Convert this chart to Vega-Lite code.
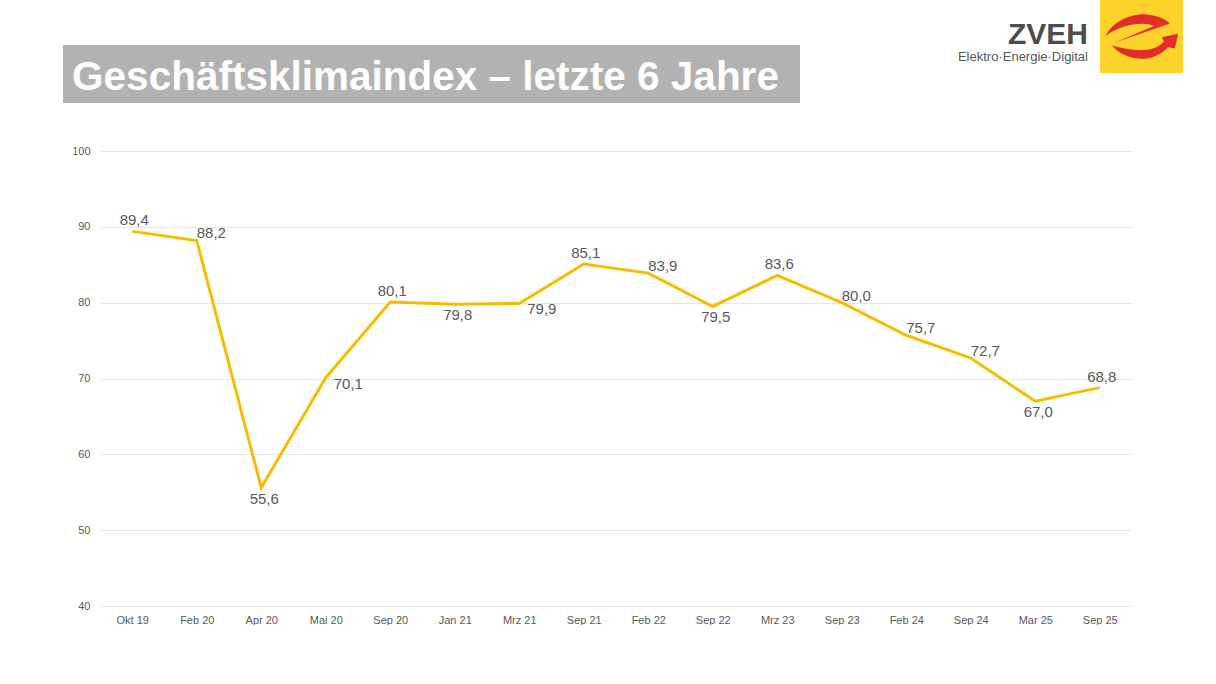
{
  "$schema": "https://vega.github.io/schema/vega-lite/v6.json",
  "background": "white",
  "padding": {"left": 63, "top": 0, "right": 0, "bottom": 0},
  "config": {
    "view": {"stroke": null},
    "font": "Liberation Sans",
    "locale": {"number": {"decimal": ",", "thousands": ".", "grouping": [3], "currency": ["", " €"]}}
  },
  "bounds": "full",
  "spacing": 42,
  "vconcat": [
    {
      "bounds": "full",
      "spacing": 12,
      "hconcat": [
        {
          "bounds": "full",
          "spacing": 12,
          "vconcat": [
            {"width": 737, "height": 33, "data": {"values": []}, "mark": "text"},
            {
              "width": 737,
              "height": 58,
              "view": {"fill": "#b2b2b2", "stroke": null},
              "data": {"values": [{"titel": "Geschäftsklimaindex – letzte 6 Jahre"}]},
              "mark": {"type": "text", "font": "Liberation Sans", "fontWeight": "bold", "fontSize": 40.5, "color": "white", "align": "center", "baseline": "middle", "dx": -6, "dy": 4},
              "encoding": {"text": {"field": "titel", "type": "nominal"}}
            }
          ]
        },
        {
          "width": 276,
          "height": 90,
          "data": {"values": [{"name": "ZVEH", "claim": "Elektro·Energie·Digital"}]},
          "layer": [
            {
              "mark": {"type": "text", "font": "Liberation Sans", "fontWeight": "bold", "fontSize": 30, "color": "#4d4d4d", "align": "right", "baseline": "alphabetic", "dy": -1},
              "encoding": {"x": {"value": "width"}, "text": {"field": "name", "type": "nominal"}}
            },
            {
              "mark": {"type": "text", "font": "Liberation Sans", "fontSize": 13, "color": "#555555", "align": "right", "baseline": "alphabetic", "dy": 16},
              "encoding": {"x": {"value": "width"}, "text": {"field": "claim", "type": "nominal"}}
            }
          ]
        },
        {
          "width": 83,
          "height": 73,
          "view": {"fill": "#FDD22A", "stroke": null},
          "data": {"values": [{"logo": "ZVEH"}]},
          "layer": [
            {
              "mark": {"type": "point", "filled": true, "opacity": 1, "color": "#E32D2B", "strokeWidth": 0, "size": 4900,
                "shape": "M -1.02 -0.02 C -0.85 -0.4 -0.3 -0.68 0.15 -0.63 C 0.45 -0.6 0.7 -0.5 0.81 -0.37 L -0.76 0.17 L 0.36 -0.3 C 0.1 -0.42 -0.5 -0.4 -1.02 -0.02 Z M -0.85 0.26 C -0.55 0.6 -0.05 0.72 0.35 0.58 C 0.55 0.5 0.68 0.4 0.76 0.3 L 0.95 0.34 L 1.05 -0.08 L 0.58 0.02 L 0.64 0.14 C 0.45 0.38 0 0.5 -0.85 0.26 Z"},
              "encoding": {}
            }
          ]
        }
      ]
    },
    {
      "bounds": "full",
      "spacing": 0,
      "hconcat": [
        {"width": 1, "height": 1, "data": {"values": []}, "mark": "text"},
        {
          "width": 1032,
          "height": 455,
          "data": {"values": [
            {"monat": "Okt 19", "wert": 89.4},
            {"monat": "Feb 20", "wert": 88.2},
            {"monat": "Apr 20", "wert": 55.6},
            {"monat": "Mai 20", "wert": 70.1},
            {"monat": "Sep 20", "wert": 80.1},
            {"monat": "Jan 21", "wert": 79.8},
            {"monat": "Mrz 21", "wert": 79.9},
            {"monat": "Sep 21", "wert": 85.1},
            {"monat": "Feb 22", "wert": 83.9},
            {"monat": "Sep 22", "wert": 79.5},
            {"monat": "Mrz 23", "wert": 83.6},
            {"monat": "Sep 23", "wert": 80.0},
            {"monat": "Feb 24", "wert": 75.7},
            {"monat": "Sep 24", "wert": 72.7},
            {"monat": "Mar 25", "wert": 67.0},
            {"monat": "Sep 25", "wert": 68.8}
          ]},
          "transform": [
            {"window": [{"op": "lag", "field": "wert", "as": "prev"}, {"op": "lead", "field": "wert", "as": "next"}]}
          ],
          "encoding": {
            "x": {"field": "monat", "type": "ordinal", "sort": null,
              "axis": {"title": null, "labelAngle": 0, "ticks": false, "domain": false, "grid": false, "labelColor": "#595959", "labelFontSize": 11, "labelFont": "Liberation Sans", "labelPadding": 8}},
            "y": {"field": "wert", "type": "quantitative", "scale": {"domain": [40, 100], "nice": false, "zero": false},
              "axis": {"title": null, "values": [40, 50, 60, 70, 80, 90, 100], "ticks": false, "domain": false, "grid": true, "gridColor": "#e6e6e6", "gridWidth": 1, "labelColor": "#595959", "labelFontSize": 11, "labelFont": "Liberation Sans", "labelPadding": 10, "minExtent": 36, "maxExtent": 36}}
          },
          "layer": [
            {"mark": {"type": "line", "color": "#F5BD02", "strokeWidth": 3, "strokeJoin": "miter"}, "encoding": {}},
            {
              "transform": [{"filter": "datum.wert >= (datum.prev == null ? datum.wert : datum.prev) && datum.wert >= (datum.next == null ? datum.wert : datum.next)"}],
              "mark": {"type": "text", "fontSize": 15, "color": "#595959", "align": "center", "baseline": "middle", "dx": 2, "dy": -11},
              "encoding": {"text": {"field": "wert", "type": "quantitative", "format": ".1f"}}
            },
            {
              "transform": [{"filter": "datum.wert < datum.prev && datum.wert < datum.next"}],
              "mark": {"type": "text", "fontSize": 15, "color": "#595959", "align": "center", "baseline": "middle", "dx": 3, "dy": 11},
              "encoding": {"text": {"field": "wert", "type": "quantitative", "format": ".1f"}}
            },
            {
              "transform": [{"filter": "datum.prev != null && datum.next != null && datum.prev > datum.wert && datum.wert > datum.next"}],
              "mark": {"type": "text", "fontSize": 15, "color": "#595959", "align": "left", "baseline": "middle", "dx": 0, "dy": -7},
              "encoding": {"text": {"field": "wert", "type": "quantitative", "format": ".1f"}}
            },
            {
              "transform": [{"filter": "datum.prev != null && datum.next != null && datum.prev < datum.wert && datum.wert < datum.next"}],
              "mark": {"type": "text", "fontSize": 15, "color": "#595959", "align": "left", "baseline": "middle", "dx": 8, "dy": 6},
              "encoding": {"text": {"field": "wert", "type": "quantitative", "format": ".1f"}}
            }
          ]
        }
      ]
    }
  ]
}
